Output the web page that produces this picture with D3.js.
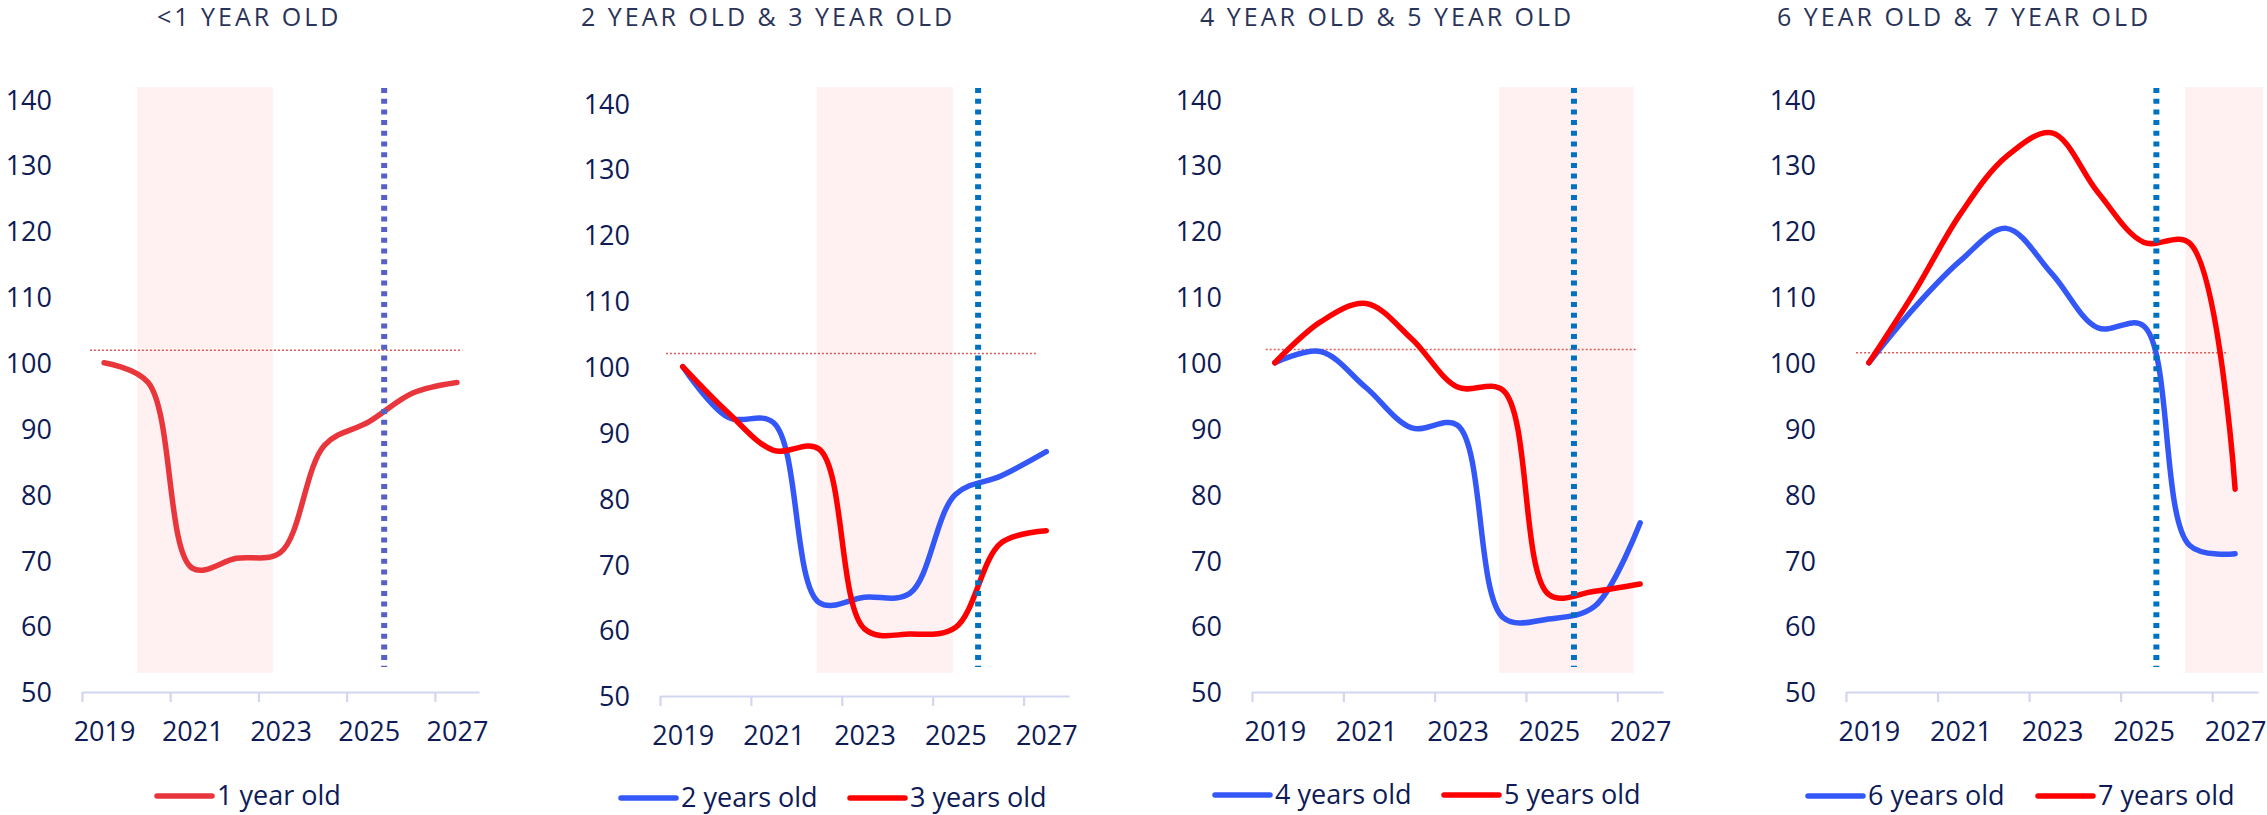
<!DOCTYPE html>
<html>
<head>
<meta charset="utf-8">
<script src="https://cdn.jsdelivr.net/npm/d3@7"></script>
<style>
  body { margin: 0; background: #fff; }
  svg text { font-family: "Open Sans", Lato, sans-serif; fill: #0e1b56; }
  .title { font-size: 25px; letter-spacing: 3px; fill: #2a3358; }
  .tick-label { font-size: 27px; }
  .legend-label { font-size: 27px; }
</style>
</head>
<body>
<script>
// categories / ticks
var years = [2019, 2020, 2021, 2022, 2023, 2024, 2025, 2026, 2027];
var yearLabels = [2019, 2021, 2023, 2025, 2027];
var yTicks = [50, 60, 70, 80, 90, 100, 110, 120, 130, 140];

// series (index, 2019 = 100)
var oneYear    = [100, 97, 68.8, 70.3, 71.2, 87.5, 91, 95.4, 97];
var twoYears   = [100, 92.3, 91.5, 64.2, 65, 65.6, 80.6, 83.4, 87.1];
var threeYears = [100, 93, 87.3, 87.5, 60.2, 59.4, 60.4, 73.2, 75.1];
var fourYears  = [100, 101.7, 96.2, 90.1, 90.5, 61.3, 61.1, 63, 75.7];
var fiveYears  = [100, 106.2, 109, 103.6, 96.3, 95.8, 64.8, 65.3, 66.4];
var sixYears   = [100, 108.4, 115.5, 120.4, 113.5, 105.3, 105.6, 72.3, 71];
var sevenYears = [100, 110.8, 122.6, 131.3, 134.9, 125.9, 118.3, 118.2, 80.8];

var titles = ["<1 YEAR OLD", "2 YEAR OLD & 3 YEAR OLD", "4 YEAR OLD & 5 YEAR OLD", "6 YEAR OLD & 7 YEAR OLD"];
var seriesNames = [["1 year old"], ["2 years old", "3 years old"], ["4 years old", "5 years old"], ["6 years old", "7 years old"]];

// annotations, in years / index units
var shadeRanges = [[2019.75, 2022.83], [2021.95, 2024.95], [2023.91, 2026.86], [2025.91, 2027.61]];
var markerYears = [2025.35, 2025.5, 2025.55, 2025.28];
var refLevels = [101.9, 102, 102, 101.5];
var refSpans = [[2018.68, 2027.12], [2018.63, 2026.8], [2018.8, 2026.95], [2018.72, 2026.85]];

var RED1 = "#e8363c", RED = "#ff0000", BLUE = "#3458f8";

var panels = [
  { x0: 82,   x1: 479,  dy: 0, titleX: 157,  legendX: [157],        legendY: 796, dotColor: "#5560c8",
    data: [oneYear], colors: [RED1] },
  { x0: 660,  x1: 1069, dy: 4, titleX: 581,  legendX: [621, 850],   legendY: 798, dotColor: "#0070c0",
    data: [twoYears, threeYears], colors: [BLUE, RED] },
  { x0: 1252, x1: 1663, dy: 0, titleX: 1200, legendX: [1215, 1444], legendY: 795, dotColor: "#0070c0",
    data: [fourYears, fiveYears], colors: [BLUE, RED] },
  { x0: 1846, x1: 2258, dy: 0, titleX: 1777, legendX: [1808, 2038], legendY: 796, dotColor: "#0070c0",
    data: [sixYears, sevenYears], colors: [BLUE, RED] }
];

var svg = d3.select("body").append("svg")
  .attr("width", 2267)
  .attr("height", 815);

panels.forEach(function(p, i) {
  var g = svg.append("g");

  var x = d3.scaleLinear().domain([2018.5, 2027.5]).range([p.x0, p.x1]);
  var y = d3.scaleLinear().domain([50, 140]).range([692 + p.dy, 99.3 + p.dy]);

  // title
  g.append("text")
    .attr("class", "title")
    .attr("x", p.titleX)
    .attr("y", 26)
    .text(titles[i]);

  // shaded period
  g.append("rect")
    .attr("x", x(shadeRanges[i][0]))
    .attr("y", 87)
    .attr("width", x(shadeRanges[i][1]) - x(shadeRanges[i][0]))
    .attr("height", 673 - 87)
    .attr("fill", "#fff1f1");

  // y labels
  var yAxis = g.append("g")
    .attr("transform", "translate(" + (p.x0 - 30) + ",0)")
    .call(d3.axisLeft(y).tickValues(yTicks).tickSize(0).tickPadding(0));
  yAxis.select(".domain").remove();
  yAxis.selectAll("text")
    .attr("class", "tick-label")
    .attr("fill", null)
    .attr("font-family", null)
    .attr("font-size", null)
    .attr("dy", "0.36em");

  // x axis: ticks every two categories
  var xAxis = g.append("g")
    .attr("transform", "translate(0," + y(50) + ")")
    .call(d3.axisBottom(x)
      .tickValues([2018.5, 2020.5, 2022.5, 2024.5, 2026.5])
      .tickSize(10)
      .tickSizeOuter(0)
      .tickFormat(""));
  xAxis.selectAll("line, path")
    .attr("stroke", "#d3d6ef")
    .attr("stroke-width", 2.2);

  var xLabels = g.append("g")
    .attr("transform", "translate(0," + y(50) + ")")
    .call(d3.axisBottom(x).tickValues(yearLabels).tickSize(0).tickPadding(30).tickFormat(d3.format("d")));
  xLabels.select(".domain").remove();
  xLabels.selectAll("text")
    .attr("class", "tick-label")
    .attr("fill", null)
    .attr("font-family", null)
    .attr("font-size", null);

  // reference level
  g.append("line")
    .attr("x1", x(refSpans[i][0]))
    .attr("x2", x(refSpans[i][1]))
    .attr("y1", y(refLevels[i]))
    .attr("y2", y(refLevels[i]))
    .attr("stroke", "#e05a5a")
    .attr("stroke-width", 1.5)
    .attr("stroke-dasharray", "2,2");

  // series, smoothed like the spreadsheet original
  var line = d3.line()
    .x(function(d, k) { return x(years[k]); })
    .y(function(d) { return y(d); })
    .curve(d3.curveCatmullRom.alpha(0.5));

  p.data.forEach(function(vals, k) {
    g.append("path")
      .datum(vals)
      .attr("d", line)
      .attr("fill", "none")
      .attr("stroke", p.colors[k])
      .attr("stroke-width", 5.5)
      .attr("stroke-linecap", "round")
      .attr("stroke-linejoin", "round");
  });

  // forecast marker
  g.append("line")
    .attr("x1", x(markerYears[i]))
    .attr("x2", x(markerYears[i]))
    .attr("y1", 88)
    .attr("y2", 667)
    .attr("stroke", p.dotColor)
    .attr("stroke-width", 6)
    .attr("stroke-dasharray", "5,5.7");

  // legend
  seriesNames[i].forEach(function(name, k) {
    var lx = p.legendX[k];
    g.append("line")
      .attr("x1", lx).attr("x2", lx + 55)
      .attr("y1", p.legendY).attr("y2", p.legendY)
      .attr("stroke", p.colors[k])
      .attr("stroke-width", 5.5)
      .attr("stroke-linecap", "round");
    g.append("text")
      .attr("class", "legend-label")
      .attr("x", lx + 60)
      .attr("y", p.legendY + 9)
      .text(name);
  });
});
</script>
</body>
</html>
